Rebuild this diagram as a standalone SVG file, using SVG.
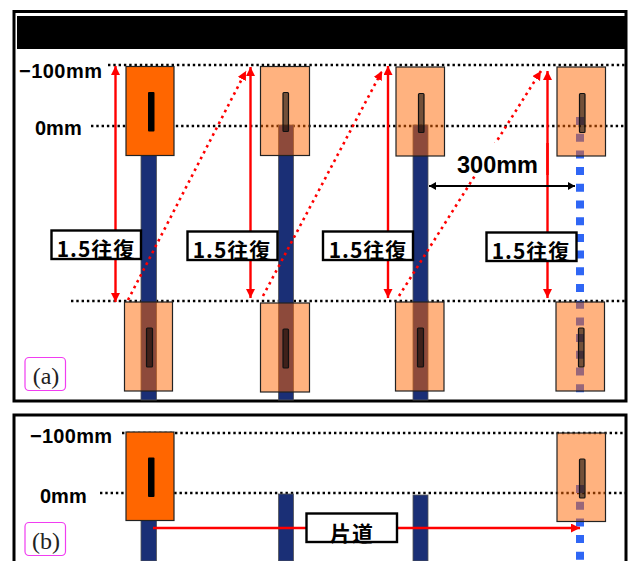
<svg xmlns="http://www.w3.org/2000/svg" width="630" height="561" viewBox="0 0 630 561">
<style>
text{fill:#000}
.mm{font:bold 20px "Liberation Sans",Arial,sans-serif}
.lab{font:bold 21px "Noto Sans CJK JP","Liberation Sans",sans-serif;text-anchor:middle;letter-spacing:1px}
.ser{font:24px "Liberation Serif",serif;text-anchor:middle;fill:#222}
.frame{fill:none;stroke:#000;stroke-width:3}
.blk{stroke:#000;stroke-width:2.400;stroke-dasharray:2.400 2.900;fill:none}
.shaft{fill:#1a2f76;stroke:#555;stroke-width:.8}
.solid{fill:#ff6600;stroke:#222;stroke-width:1.2}
.light{fill:#ff6600;fill-opacity:.5;stroke:#222;stroke-width:1.2}
.tabS{fill:#000}
.tabL{fill:#000;fill-opacity:.55;stroke:#111;stroke-width:1.2}
.blue{stroke:#2f66f5;stroke-width:8;stroke-dasharray:8 8.7;fill:none}
.red{stroke:#f00;stroke-width:2.4;fill:none}
.rd{stroke:#f00;stroke-width:2.6;stroke-dasharray:2.6 4;fill:none}
.box{fill:#fff;stroke:#000;stroke-width:2.4}
.pink{fill:#fff;stroke:#f13df1;stroke-width:1.2}
</style>
<defs>
<marker id="r" markerUnits="userSpaceOnUse" markerWidth="10" markerHeight="10" refX="9" refY="4.5" orient="auto-start-reverse"><path d="M0 0L9 4.5L0 9Z" fill="#f00"/></marker>
<marker id="k" markerUnits="userSpaceOnUse" markerWidth="8" markerHeight="9" refX="7" refY="4" orient="auto-start-reverse"><path d="M0 0L7 4L0 8Z" fill="#000"/></marker>
</defs>
<rect class="frame" x="14" y="11.500" width="612" height="389.500"/>
<rect x="17" y="16" width="608" height="33" fill="#000"/>
<path class="frame" d="M14 561V415H626V561"/>
<g id="lines">
<path class="blk" d="M108 65H625M91 126H625M71 301H625M122 433H625M100 493H625"/>
</g>
<g id="shafts">
<rect class="shaft" x="141" y="155" width="15.500" height="245"/>
<rect class="shaft" x="278.500" y="125" width="15" height="275"/>
<rect class="shaft" x="413" y="125" width="15" height="275"/>
<path class="blue" d="M580 117V400"/>
<rect class="shaft" x="141" y="520" width="15.500" height="41"/>
<rect class="shaft" x="278.500" y="494" width="15" height="67"/>
<rect class="shaft" x="413" y="495" width="15" height="66"/>
<path class="blue" d="M580 485V561"/>
</g>
<g id="connectors">
<path class="rd" d="M128 300L246 71" marker-end="url(#r)"/>
<path class="rd" d="M263 296L382 71" marker-end="url(#r)"/>
<path class="rd" d="M399 296L541 71" marker-end="url(#r)"/>
<path class="red" d="M115.500 66V302" marker-start="url(#r)" marker-end="url(#r)"/>
<path class="red" d="M250.500 67V298" marker-start="url(#r)" marker-end="url(#r)"/>
<path class="red" d="M388 66V298" marker-start="url(#r)" marker-end="url(#r)"/>
<path class="red" d="M547.500 71V298" marker-start="url(#r)" marker-end="url(#r)"/>
<path class="red" d="M153 528H580" marker-end="url(#r)"/>
<path d="M429 186H575" stroke="#000" stroke-width="2" marker-start="url(#k)" marker-end="url(#k)"/>
</g>
<g id="n300"><rect x="452" y="143" width="92" height="31" fill="#fff"/><path class="red" d="M547.500 143V175"/><text x="457" y="173" style="font:bold 23.500px 'Liberation Sans',Arial,sans-serif">300mm</text></g>
<g id="a-top-1"><rect class="solid" x="126" y="66.500" width="48" height="89"/><rect class="tabS" x="148" y="92" width="6.500" height="39.500" rx="1"/></g>
<g id="a-top-2"><rect class="light" x="260.500" y="66.500" width="49" height="89"/><rect class="tabL" x="283" y="92.500" width="5.500" height="39" rx="1"/></g>
<g id="a-top-3"><rect class="light" x="396" y="67" width="48.500" height="89"/><rect class="tabL" x="418.500" y="93.500" width="5.500" height="39" rx="1"/></g>
<g id="a-top-4"><rect class="light" x="557" y="67" width="48.500" height="89"/><rect class="tabL" x="579.500" y="93.500" width="5.500" height="39" rx="1"/></g>
<g id="a-bot-1"><rect class="light" x="124.500" y="302" width="48" height="89"/><rect class="tabL" x="146.500" y="328" width="6" height="39" rx="1"/></g>
<g id="a-bot-2"><rect class="light" x="260.500" y="303" width="49" height="89"/><rect class="tabL" x="283" y="329" width="5.500" height="39" rx="1"/></g>
<g id="a-bot-3"><rect class="light" x="395.500" y="302" width="48.500" height="89"/><rect class="tabL" x="417.500" y="328" width="6" height="39" rx="1"/></g>
<g id="a-bot-4"><rect class="light" x="556" y="302" width="48.500" height="89"/><rect class="tabL" x="578.500" y="328" width="5.500" height="39" rx="1"/></g>
<g id="b-1"><rect class="solid" x="126" y="432" width="48" height="88.500"/><rect class="tabS" x="148" y="457.500" width="6.500" height="39.500" rx="1"/></g>
<g id="b-2"><rect class="light" x="557" y="433" width="48.500" height="88.500"/><rect class="tabL" x="579.500" y="459" width="5.500" height="39" rx="1"/></g>
<g id="label-a1"><rect class="box" x="51.500" y="230.500" width="89.500" height="28.500"/><text class="lab" x="96" y="257">1.5往復</text></g>
<g id="label-a2"><rect class="box" x="187.500" y="231.500" width="90" height="28.500"/><text class="lab" x="232" y="258">1.5往復</text></g>
<g id="label-a3"><rect class="box" x="323" y="231.500" width="90" height="28.500"/><text class="lab" x="368" y="258">1.5往復</text></g>
<g id="label-a4"><rect class="box" x="486.500" y="232.500" width="90" height="28.500"/><text class="lab" x="531" y="259">1.5往復</text></g>
<g id="label-b"><rect class="box" x="306.500" y="513.500" width="90.500" height="28.500"/><text class="lab" x="352" y="541">片道</text></g>
<g id="texts">
<text class="mm" x="19" y="78" textLength="83">−100mm</text>
<text class="mm" x="35" y="135">0mm</text>
<text class="mm" x="30" y="443" textLength="82">−100mm</text>
<text class="mm" x="40" y="503">0mm</text>
</g>
<g id="tag-a"><rect class="pink" x="25" y="357.500" width="40.500" height="33" rx="4"/><text class="ser" x="46" y="384">(a)</text></g>
<g id="tag-b"><rect class="pink" x="25" y="522.500" width="40.500" height="33" rx="4"/><text class="ser" x="46" y="549">(b)</text></g>
</svg>
